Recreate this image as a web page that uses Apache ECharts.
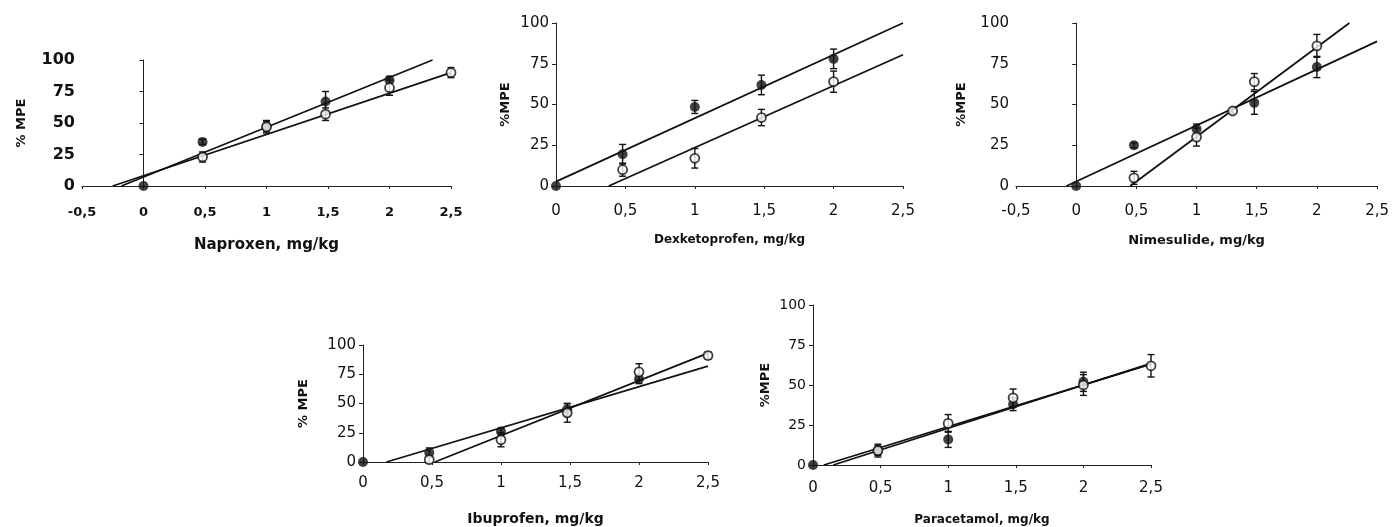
<!DOCTYPE html>
<html>
<head>
<meta charset="utf-8">
<script src="https://cdn.jsdelivr.net/npm/echarts@6/dist/echarts.min.js"></script>
<style>
html, body { margin: 0; background: #fff; }
#chart { width: 1392px; height: 527px; }
</style>
</head>
<body>
<div id="chart"></div>
<script>
// --- data (mean % MPE, SEM) ---
const napDose = [0, 0.48, 1, 1.48, 2, 2.5]
const napFilled = [0, 35, 47, 67, 84, null]
const napFilledSem = [0, 2, 4, 8, 3, null]
const napOpen = [null, 23, 47, 57, 78, 90]
const napOpenSem = [null, 4, 5, 5, 6, 4]
const napFitFilled = [[-0.18, 0], [2.35, 100]]
const napFitOpen = [[-0.25, 0], [2.5, 90]]

const dexDose = [0, 0.48, 1, 1.48, 2]
const dexFilled = [0, 19.5, 48.5, 62, 78]
const dexFilledSem = [0, 6, 4, 6, 6]
const dexOpen = [null, 10, 17, 42, 64]
const dexOpenSem = [null, 4, 6, 5, 6.5]
const dexFitFilled = [[0, 2.7], [2.5, 100]]
const dexFitOpen = [[0.38, 0], [2.5, 80.5]]

const nimDose = [0, 0.48, 1, 1.3, 1.48, 2]
const nimFilled = [0, 25, 35, null, 51, 73]
const nimFilledSem = [0, 1.5, 3, null, 7, 6.5]
const nimOpen = [null, 5, 30, 46, 64, 86]
const nimOpenSem = [null, 4, 5.5, 1.5, 5, 7]
const nimFitFilled = [[-0.08, 0], [2.5, 88.7]]
const nimFitOpen = [[0.45, 0], [2.27, 100]]

const ibuDose = [0, 0.48, 1, 1.48, 2, 2.5]
const ibuFilled = [0, 8, 26, 45, 71, null]
const ibuFilledSem = [0, 4, 3, 5, 4, null]
const ibuOpen = [null, 2, 19, 42, 77, 91]
const ibuOpenSem = [null, 3, 6, 8, 7, 3]
const ibuFitFilled = [[0.17, 0], [2.5, 82]]
const ibuFitOpen = [[0.52, 0], [2.5, 93]]

const parDose = [0, 0.48, 1, 1.48, 2, 2.5]
const parFilled = [0, 9, 16, 38, 52, null]
const parFilledSem = [0, 3, 5, 4, 6, null]
const parOpen = [null, 9, 26, 42, 50, 62]
const parOpenSem = [null, 4, 5.5, 5.5, 6.5, 7]
const parFitFilled = [[0.08, 0], [2.5, 63]]
const parFitOpen = [[0.15, 0], [2.5, 63.5]]

const yTickStep = 25
const xTickStep = 0.5

const panels = [
  { name: 'Naproxen, mg/kg', yName: '% MPE', xMin: -0.5, dose: napDose, filled: napFilled, filledSem: napFilledSem, open: napOpen, openSem: napOpenSem, fits: [napFitFilled, napFitOpen],
    grid: { left: 82, top: 60, width: 369, height: 126 }, yFont: 16, xFont: 13, tickBold: true, xMargin: 20, nameFont: 15, nameGap: 52, yNameGap: 54, yNameFont: 13 },
  { name: 'Dexketoprofen, mg/kg', yName: '%MPE', xMin: 0, dose: dexDose, filled: dexFilled, filledSem: dexFilledSem, open: dexOpen, openSem: dexOpenSem, fits: [dexFitFilled, dexFitOpen],
    grid: { left: 556, top: 23, width: 347, height: 163 }, yFont: 15, xFont: 15, tickBold: false, xMargin: 18, nameFont: 12, nameGap: 48, yNameGap: 44, yNameFont: 13 },
  { name: 'Nimesulide, mg/kg', yName: '%MPE', xMin: -0.5, dose: nimDose, filled: nimFilled, filledSem: nimFilledSem, open: nimOpen, openSem: nimOpenSem, fits: [nimFitFilled, nimFitOpen],
    grid: { left: 1016, top: 23, width: 364, height: 163 }, yFont: 15, xFont: 15, tickBold: false, xMargin: 18, nameFont: 13, nameGap: 48, yNameGap: 48, yNameFont: 13 },
  { name: 'Ibuprofen, mg/kg', yName: '% MPE', xMin: 0, dose: ibuDose, filled: ibuFilled, filledSem: ibuFilledSem, open: ibuOpen, openSem: ibuOpenSem, fits: [ibuFitFilled, ibuFitOpen],
    grid: { left: 363, top: 345, width: 345, height: 119 }, yFont: 15, xFont: 15, tickBold: false, xMargin: 14, nameFont: 14, nameGap: 50, yNameGap: 53, yNameFont: 13 },
  { name: 'Paracetamol, mg/kg', yName: '%MPE', xMin: 0, dose: parDose, filled: parFilled, filledSem: parFilledSem, open: parOpen, openSem: parOpenSem, fits: [parFitFilled, parFitOpen],
    grid: { left: 813, top: 305, width: 338, height: 160 }, yFont: 14, xFont: 15, tickBold: false, xMargin: 16, nameFont: 12, nameGap: 49, yNameGap: 41, yNameFont: 13 }
]

const FONT = 'DejaVu Sans'

const errorBars = (dose, vals, sems) => dose.map((d, i) => [d, vals[i], sems[i]]).filter(p => p[1] != null && p[2])

const renderErr = (params, api) => {
  const x = api.value(0), y = api.value(1), e = api.value(2)
  const top = api.coord([x, y + e])
  const bot = api.coord([x, y - e])
  const cap = 3.5
  const style = { stroke: '#111', lineWidth: 1.4 }
  return {
    type: 'group',
    children: [
      { type: 'line', shape: { x1: top[0], y1: top[1], x2: bot[0], y2: bot[1] }, style },
      { type: 'line', shape: { x1: top[0] - cap, y1: top[1], x2: top[0] + cap, y2: top[1] }, style },
      { type: 'line', shape: { x1: bot[0] - cap, y1: bot[1], x2: bot[0] + cap, y2: bot[1] }, style }
    ]
  }
}

const option = { animation: false, grid: [], xAxis: [], yAxis: [], series: [] }

panels.forEach((p, k) => {
  option.grid.push(Object.assign({ containLabel: false }, p.grid))
  option.xAxis.push({
    gridIndex: k, type: 'value', min: p.xMin, max: 2.5, interval: xTickStep,
    name: p.name, nameLocation: 'middle', nameGap: p.nameGap,
    nameTextStyle: { fontFamily: FONT, fontWeight: 'bold', fontSize: p.nameFont, color: '#111' },
    axisLine: { onZero: false, lineStyle: { color: '#222', width: 1 } },
    axisTick: { length: 3, lineStyle: { color: '#222' } },
    axisLabel: { fontFamily: FONT, fontSize: p.xFont, fontWeight: p.tickBold ? 'bold' : 'normal', color: '#111', margin: p.xMargin,
      formatter: v => String(v).replace('.', ',') },
    splitLine: { show: false }
  })
  option.yAxis.push({
    gridIndex: k, type: 'value', min: 0, max: 100, interval: yTickStep,
    name: p.yName, nameLocation: 'middle', nameGap: p.yNameGap, nameRotate: 90,
    nameTextStyle: { fontFamily: FONT, fontWeight: 'bold', fontSize: p.yNameFont, color: '#111' },
    axisLine: { show: true, lineStyle: { color: '#222', width: 1 } },
    axisTick: { show: true, length: 4, lineStyle: { color: '#222' } },
    axisLabel: { fontFamily: FONT, fontSize: p.yFont, fontWeight: p.tickBold ? 'bold' : 'normal', color: '#111', margin: 7 },
    splitLine: { show: false }
  })
  p.fits.forEach(fit => {
    option.series.push({
      type: 'line', xAxisIndex: k, yAxisIndex: k, data: fit, symbol: 'none', clip: true,
      lineStyle: { color: '#111', width: 1.8 }, z: 2
    })
  })
  option.series.push({
    type: 'custom', xAxisIndex: k, yAxisIndex: k, renderItem: renderErr,
    data: errorBars(p.dose, p.filled, p.filledSem).concat(errorBars(p.dose, p.open, p.openSem)), z: 3
  })
  option.series.push({
    type: 'scatter', xAxisIndex: k, yAxisIndex: k, symbol: 'circle', symbolSize: 10,
    data: p.dose.map((d, i) => [d, p.filled[i]]).filter(v => v[1] != null),
    itemStyle: { color: '#111' }, z: 4
  })
  option.series.push({
    type: 'scatter', xAxisIndex: k, yAxisIndex: k, symbol: 'circle', symbolSize: 9,
    data: p.dose.map((d, i) => [d, p.open[i]]).filter(v => v[1] != null),
    itemStyle: { color: '#fff', borderColor: '#111', borderWidth: 1.8 }, z: 5
  })
})

const chart = echarts.init(document.getElementById('chart'), null, { renderer: 'canvas' })
chart.setOption(option)
</script>
</body>
</html>
